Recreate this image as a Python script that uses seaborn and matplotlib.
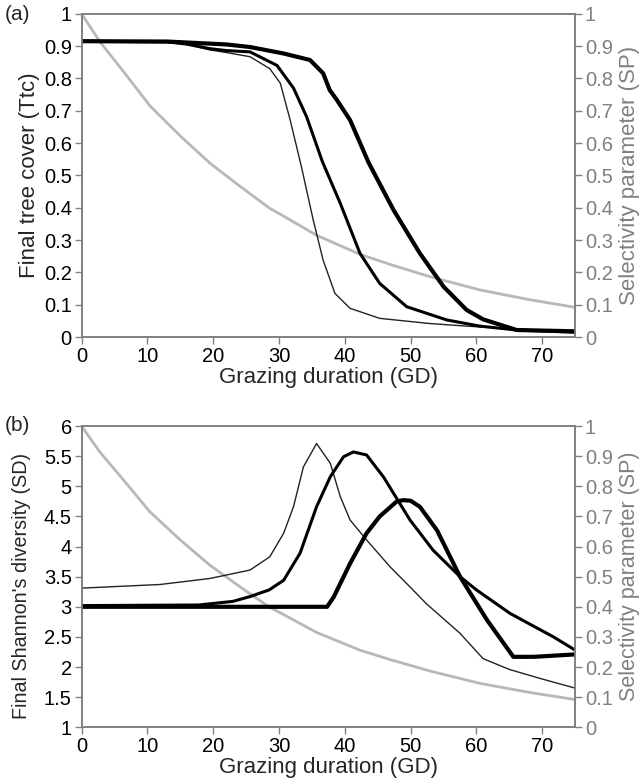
import numpy as np
import pandas as pd
import matplotlib
matplotlib.use("Agg")
import matplotlib.pyplot as plt
import seaborn as sns

# Selectivity parameter (grey curve, same in both panels)
gd_sp = [0, 2.8, 5.8, 10.4, 15, 19.5, 24.1, 28.6, 30.2, 35.7, 42.3, 47, 52.9, 60.5, 68, 75]
sp = [1.0, 0.913, 0.836, 0.715, 0.622, 0.538, 0.466, 0.398, 0.38, 0.315, 0.256, 0.224, 0.187, 0.146, 0.116, 0.092]

# Panel (a): final tree cover
gd_a_thin = [0, 13, 16, 19.5, 22, 25.6, 28.6, 30.2, 31.7, 33.4, 35.2, 36.7, 38.5, 40.8, 45.3, 52.9, 58.5, 66, 75]
ttc_thin = [0.915, 0.913, 0.905, 0.888, 0.88, 0.867, 0.83, 0.785, 0.671, 0.527, 0.362, 0.238, 0.135, 0.089,
            0.058, 0.042, 0.034, 0.025, 0.015]
gd_a_mid = [0, 13, 16, 19.5, 22, 25.6, 29.7, 32.2, 34.2, 36.6, 39.3, 42.3, 45.3, 49.4, 55.5, 60.5, 66.1, 75]
ttc_mid = [0.915, 0.913, 0.906, 0.892, 0.886, 0.882, 0.84, 0.77, 0.681, 0.542, 0.414, 0.259, 0.166, 0.094,
           0.053, 0.034, 0.022, 0.015]
gd_a_thick = [0, 13, 22, 25.6, 30.7, 34.7, 36.7, 37.7, 38.8, 40.8, 43.6, 47.4, 51.4, 55, 58.5, 61, 66.1, 75]
ttc_thick = [0.915, 0.914, 0.905, 0.897, 0.877, 0.857, 0.816, 0.764, 0.733, 0.671, 0.54, 0.393, 0.259, 0.156,
             0.084, 0.055, 0.022, 0.018]

# Panel (b): final Shannon's diversity
gd_b_thin = [0, 11.9, 19.5, 25.6, 28.6, 30.7, 32.2, 33.7, 35.7, 37.8, 39.3, 40.8, 43.3, 46.9, 49.9, 52.4, 57.5,
             61.0, 65, 69.7, 75]
sd_thin = [3.31, 3.37, 3.47, 3.61, 3.83, 4.22, 4.66, 5.32, 5.71, 5.38, 4.83, 4.44, 4.11, 3.66, 3.33, 3.05, 2.56,
           2.14, 1.96, 1.81, 1.65]
gd_b_mid = [0, 17.8, 23, 25.6, 28.5, 30.7, 33.2, 35.7, 37.8, 39.8, 41.3, 43.3, 45.9, 49.9, 53.4, 57.5, 60,
            65.1, 71.7, 75]
sd_mid = [3.02, 3.03, 3.09, 3.17, 3.28, 3.44, 3.89, 4.66, 5.16, 5.49, 5.57, 5.52, 5.15, 4.44, 3.94, 3.5, 3.28,
          2.89, 2.5, 2.28]
gd_b_thick = [0, 37.3, 38.3, 40.8, 43.3, 45.3, 47.9, 48.9, 50, 51.4, 54, 57.5, 61.6, 65.6, 68.7, 75]
sd_thick = [3.0, 3.0, 3.16, 3.72, 4.22, 4.5, 4.75, 4.77, 4.76, 4.66, 4.27, 3.5, 2.78, 2.17, 2.17, 2.21]

x_ticks = [0, 10, 20, 30, 40, 50, 60, 70]
sp_ticks = [0, 0.1, 0.2, 0.3, 0.4, 0.5, 0.6, 0.7, 0.8, 0.9, 1]
ttc_ticks = sp_ticks
sd_ticks = [1, 1.5, 2, 2.5, 3, 3.5, 4, 4.5, 5, 5.5, 6]

sns.set_style("white")
plt.rcParams['font.family'] = ['Liberation Sans', 'DejaVu Sans']

spine_c = '#808080'
grey_c = '#b8b8b8'
tick_fs = 14.5

fig = plt.figure(figsize=(6.42, 7.84), dpi=100)
ax_a = fig.add_axes([0.127, 0.570, 0.769, 0.4125])
ax_b = fig.add_axes([0.127, 0.0723, 0.769, 0.3843])


def style_axes(ax, ax2, left_ticks, ylabel, left_lim, yl_fs, sp_fs):
    ax.set_xlim(0, 75)
    ax.set_ylim(*left_lim)
    ax2.set_ylim(0, 1)
    ax.set_xticks(x_ticks)
    ax.set_xticklabels([f"{t:g}" for t in x_ticks])
    ax.set_yticks(left_ticks)
    ax.set_yticklabels([f"{t:g}" for t in left_ticks])
    ax2.set_yticks(sp_ticks)
    ax2.set_yticklabels([f"{t:g}" for t in sp_ticks])
    for a in (ax, ax2):
        for s in a.spines.values():
            s.set_color(spine_c)
            s.set_linewidth(1.2)
    ax.tick_params(axis='both', direction='out', length=5, width=1, color=spine_c,
                   labelsize=tick_fs, labelcolor='black', pad=2,
                   left=True, bottom=True)
    ax2.tick_params(axis='y', direction='out', length=5, width=1, color=spine_c,
                    labelsize=tick_fs, labelcolor=spine_c, pad=2, right=True)
    ax.set_xlabel("Grazing duration (GD)", fontsize=16, labelpad=1)
    ax.set_ylabel(ylabel, fontsize=yl_fs, labelpad=3)
    ax2.set_ylabel("Selectivity parameter (SP)", fontsize=sp_fs, color=spine_c, labelpad=4)
    ax.grid(False)
    ax2.grid(False)


# panel (a)
ax_a2 = ax_a.twinx()
sns.lineplot(x=gd_sp, y=sp, ax=ax_a2, color=grey_c, lw=2.0)
sns.lineplot(x=gd_a_thin, y=ttc_thin, ax=ax_a, color='#222222', lw=1.0)
sns.lineplot(x=gd_a_mid, y=ttc_mid, ax=ax_a, color='black', lw=2.2)
sns.lineplot(x=gd_a_thick, y=ttc_thick, ax=ax_a, color='black', lw=3.0)
ax_a.set_zorder(ax_a2.get_zorder() + 1)
ax_a.patch.set_visible(False)
style_axes(ax_a, ax_a2, ttc_ticks, "Final tree cover (Ttc)", (0, 1), 16, 16)
fig.text(0.008, 0.982, "(a)", fontsize=15, va='center', ha='left')

# panel (b)
ax_b2 = ax_b.twinx()
sns.lineplot(x=gd_sp, y=sp, ax=ax_b2, color=grey_c, lw=2.0)
sns.lineplot(x=gd_b_thin, y=sd_thin, ax=ax_b, color='#222222', lw=1.0)
sns.lineplot(x=gd_b_mid, y=sd_mid, ax=ax_b, color='black', lw=2.2)
sns.lineplot(x=gd_b_thick, y=sd_thick, ax=ax_b, color='black', lw=3.0)
ax_b.set_zorder(ax_b2.get_zorder() + 1)
ax_b.patch.set_visible(False)
style_axes(ax_b, ax_b2, sd_ticks, "Final Shannon's diversity (SD)", (1, 6), 14.2, 15.5)
ax_b.yaxis.set_label_coords(-0.103, 0.47)
fig.text(0.008, 0.457, "(b)", fontsize=15, va='center', ha='left')

fig.savefig("out.png", dpi=100)
